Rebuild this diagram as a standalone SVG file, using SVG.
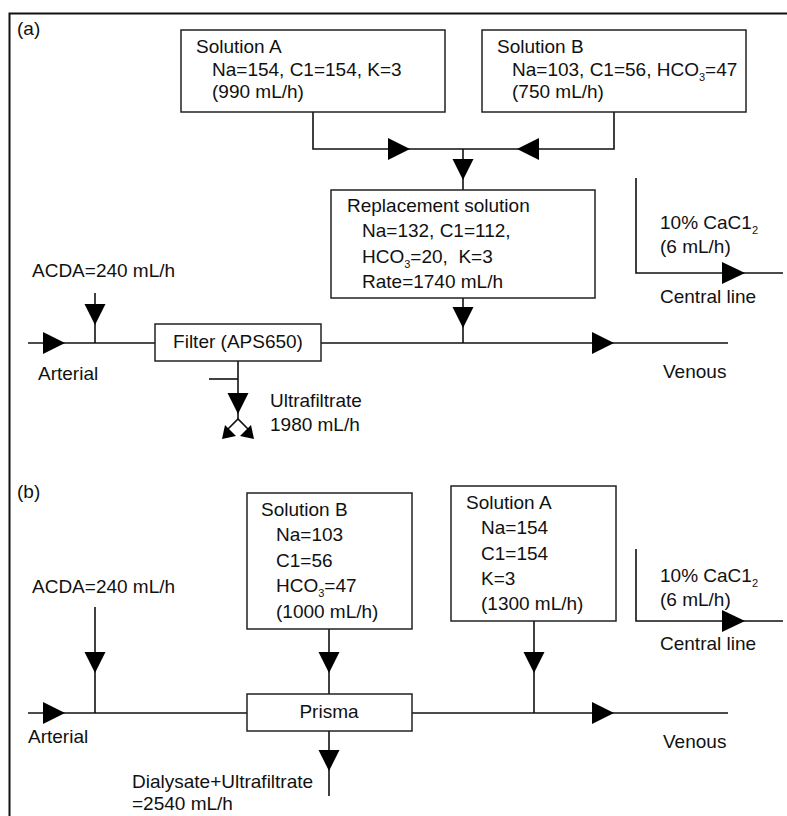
<svg xmlns="http://www.w3.org/2000/svg" width="787" height="816" viewBox="0 0 787 816">
<style>
text{font-family:"Liberation Sans",Arial,sans-serif;font-size:19px;fill:#111;white-space:pre}
.c{text-anchor:middle}
.box{fill:#fff;stroke:#222;stroke-width:1.5}
.ln{fill:none;stroke:#111;stroke-width:1.6}
.ah{fill:#000;stroke:none}
.frame{fill:none;stroke:#111;stroke-width:2}
.sub{font-size:11px}
</style>
<g id="frame">
<path class="frame" d="M9.5,816 V13.5 H787"/>
<text x="17" y="35">(a)</text>
<text x="17" y="498">(b)</text>
</g>
<g id="connectors">
<!-- (a) -->
<polyline class="ln" points="313,112 313,149 463,149"/>
<polyline class="ln" points="614,112 614,149 463,149"/>
<line class="ln" x1="463" y1="149" x2="463" y2="190"/>
<path class="ah" d="M388,138 L410,149 L388,160 Z"/>
<path class="ah" d="M539,138 L517,149 L539,160 Z"/>
<path class="ah" d="M452.5,159 L473.5,159 L463,180 Z"/>
<line class="ln" x1="463" y1="298" x2="463" y2="343"/>
<path class="ah" d="M452.5,307 L473.5,307 L463,328 Z"/>
<line class="ln" x1="28" y1="343" x2="155" y2="343"/>
<line class="ln" x1="321" y1="343" x2="728" y2="343"/>
<path class="ah" d="M43,332 L65,343 L43,354 Z"/>
<path class="ah" d="M592,332 L614,343 L592,354 Z"/>
<line class="ln" x1="95" y1="293" x2="95" y2="343"/>
<path class="ah" d="M84.5,304 L105.5,304 L95,325 Z"/>
<line class="ln" x1="238" y1="361" x2="238" y2="419"/>
<line class="ln" x1="209" y1="379" x2="238" y2="379"/>
<path class="ah" d="M227.5,393 L248.5,393 L238,414 Z"/>
<polyline class="ln" points="228,429 238,419 248,429"/>
<path class="ah" d="M222,439 L225,425 L236,436 Z"/>
<path class="ah" d="M254,439 L251,425 L240,436 Z"/>
<polyline class="ln" points="636,178 636,273 783,273"/>
<path class="ah" d="M722,262 L745,273 L722,284 Z"/>
<!-- (b) -->
<polyline class="ln" points="636,549 636,621 783,621"/>
<path class="ah" d="M722,610 L745,621 L722,632 Z"/>
<line class="ln" x1="95" y1="607" x2="95" y2="713"/>
<path class="ah" d="M84.5,652 L105.5,652 L95,673 Z"/>
<line class="ln" x1="28" y1="713" x2="247" y2="713"/>
<line class="ln" x1="412" y1="713" x2="728" y2="713"/>
<path class="ah" d="M43,702 L65,713 L43,724 Z"/>
<path class="ah" d="M592,702 L614,713 L592,724 Z"/>
<line class="ln" x1="329" y1="629" x2="329" y2="694"/>
<path class="ah" d="M318.5,652 L339.5,652 L329,673 Z"/>
<line class="ln" x1="534" y1="621" x2="534" y2="713"/>
<path class="ah" d="M523.5,652 L544.5,652 L534,673 Z"/>
<line class="ln" x1="329" y1="731" x2="329" y2="796"/>
<path class="ah" d="M318.5,750 L339.5,750 L329,771 Z"/>
</g>
<g id="a-solutionA">
<rect class="box" x="181" y="30" width="264" height="82"/>
<text x="196" y="53">Solution A</text>
<text x="212" y="76">Na=154, C1=154, K=3</text>
<text x="212" y="98">(990 mL/h)</text>
</g>
<g id="a-solutionB">
<rect class="box" x="482" y="30" width="264" height="82"/>
<text x="497" y="53">Solution B</text>
<text x="512" y="76">Na=103, C1=56, HCO<tspan class="sub" dy="5">3</tspan><tspan dy="-5">=47</tspan></text>
<text x="512" y="98">(750 mL/h)</text>
</g>
<g id="a-replacement">
<rect class="box" x="331" y="190" width="264" height="108"/>
<text x="347" y="212">Replacement solution</text>
<text x="362" y="237">Na=132, C1=112,</text>
<text x="362" y="263">HCO<tspan class="sub" dy="5">3</tspan><tspan dy="-5">=20,  K=3</tspan></text>
<text x="362" y="288">Rate=1740 mL/h</text>
</g>
<g id="a-filter">
<rect class="box" x="155" y="324" width="166" height="37"/>
<text class="c" x="238" y="348">Filter (APS650)</text>
</g>
<g id="a-labels">
<text x="32" y="277">ACDA=240 mL/h</text>
<text x="38" y="380">Arterial</text>
<text x="270" y="407">Ultrafiltrate</text>
<text x="270" y="431">1980 mL/h</text>
<text x="660" y="229">10% CaC1<tspan class="sub" dy="5">2</tspan></text>
<text x="660" y="253">(6 mL/h)</text>
<text x="660" y="303">Central line</text>
<text x="663" y="378">Venous</text>
</g>
<g id="b-solutionB">
<rect class="box" x="247" y="493" width="165" height="136"/>
<text x="261" y="516">Solution B</text>
<text x="276" y="541">Na=103</text>
<text x="276" y="567">C1=56</text>
<text x="276" y="592">HCO<tspan class="sub" dy="5">3</tspan><tspan dy="-5">=47</tspan></text>
<text x="276" y="618">(1000 mL/h)</text>
</g>
<g id="b-solutionA">
<rect class="box" x="451" y="486" width="165" height="135"/>
<text x="466" y="509">Solution A</text>
<text x="481" y="534">Na=154</text>
<text x="481" y="560">C1=154</text>
<text x="481" y="585">K=3</text>
<text x="481" y="610">(1300 mL/h)</text>
</g>
<g id="b-prisma">
<rect class="box" x="247" y="694" width="165" height="37"/>
<text class="c" x="329" y="718">Prisma</text>
</g>
<g id="b-labels">
<text x="32" y="593">ACDA=240 mL/h</text>
<text x="660" y="582">10% CaC1<tspan class="sub" dy="5">2</tspan></text>
<text x="660" y="606">(6 mL/h)</text>
<text x="660" y="650">Central line</text>
<text x="28" y="743">Arterial</text>
<text x="663" y="748">Venous</text>
<text x="132" y="788">Dialysate+Ultrafiltrate</text>
<text x="132" y="810">=2540 mL/h</text>
</g>
</svg>
